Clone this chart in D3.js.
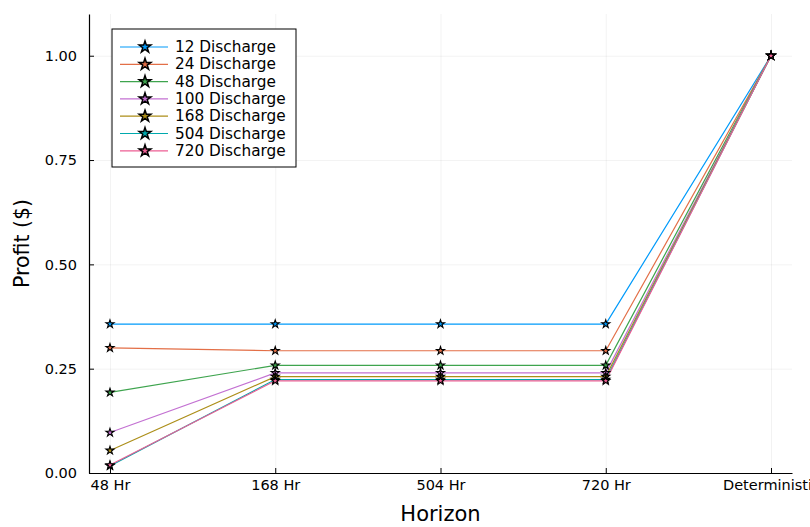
<!DOCTYPE html>
<html>
<head>
<meta charset="utf-8">
<script src="https://cdn.jsdelivr.net/npm/d3@7"></script>
<style>
  body { margin: 0; background: #fff; }
  svg { font-family: "DejaVu Sans", sans-serif; }
</style>
</head>
<body>
<div id="chart"></div>
<script>
// data
const horizons = ["48 Hr", "168 Hr", "504 Hr", "720 Hr", "Deterministic"];
const seriesNames = ["12 Discharge", "24 Discharge", "48 Discharge", "100 Discharge", "168 Discharge", "504 Discharge", "720 Discharge"];
const d12 = [0.357, 0.357, 0.357, 0.357, 1.0];
const d24 = [0.300, 0.293, 0.293, 0.293, 1.0];
const d48 = [0.193, 0.258, 0.258, 0.258, 1.0];
const d100 = [0.097, 0.240, 0.240, 0.240, 1.0];
const d168 = [0.054, 0.231, 0.231, 0.231, 1.0];
const d504 = [0.017, 0.224, 0.224, 0.224, 1.0];
const d720 = [0.019, 0.221, 0.221, 0.221, 1.0];
const yTicks = [0, 0.25, 0.5, 0.75, 1.0];

const allSeries = [d12, d24, d48, d100, d168, d504, d720];
const colors = ["#009afa", "#e36f47", "#3ea44e", "#c371d2", "#ac8e18", "#00a9ad", "#ed5e93"];

const width = 810, height = 527;
const margin = {top: 14, right: 18, bottom: 54, left: 89};
const w = width - margin.left - margin.right;
const h = height - margin.top - margin.bottom;

const svg = d3.select("#chart")
    .append("svg")
    .attr("width", width)
    .attr("height", height)
    .style("overflow", "visible");

const g = svg.append("g")
    .attr("transform", `translate(${margin.left},${margin.top})`);

// Scales
const pad = 0.127;
const x = d3.scaleLinear()
    .domain([-pad, horizons.length - 1 + pad])
    .range([0, w]);

const y = d3.scaleLinear()
    .domain([0, 1.1])
    .range([h, 0]);

// Grid lines
g.append("g")
    .attr("class", "grid")
    .attr("transform", `translate(0,${h})`)
    .call(d3.axisBottom(x).tickValues(d3.range(horizons.length)).tickSize(-h).tickFormat(""))
    .call(s => s.select(".domain").remove())
    .selectAll("line").attr("stroke", "#000").attr("stroke-opacity", 0.1).attr("stroke-width", 0.5);

g.append("g")
    .attr("class", "grid")
    .call(d3.axisLeft(y).tickValues(yTicks).tickSize(-w).tickFormat(""))
    .call(s => s.select(".domain").remove())
    .selectAll("line").attr("stroke", "#000").attr("stroke-opacity", 0.1).attr("stroke-width", 0.5);

// Axes
const xAxis = g.append("g")
    .attr("transform", `translate(0,${h})`)
    .call(d3.axisBottom(x)
        .tickValues(d3.range(horizons.length))
        .tickFormat(i => horizons[i])
        .tickSizeInner(-5).tickSizeOuter(0).tickPadding(7));

const yAxis = g.append("g")
    .call(d3.axisLeft(y)
        .tickValues(yTicks)
        .tickFormat(d3.format(".2f"))
        .tickSizeInner(-5).tickSizeOuter(0).tickPadding(12));

[xAxis, yAxis].forEach(a => {
    a.attr("font-size", null);
    a.select(".domain").attr("stroke", "#000").attr("stroke-width", 1.2);
    a.selectAll(".tick line").attr("stroke", "#000").attr("stroke-width", 1);
    a.selectAll("text").attr("font-size", 14.5).attr("fill", "#000")
        .style("font-family", "DejaVu Sans, sans-serif");
});
yAxis.selectAll("text").attr("x", -12);

// Axis titles
svg.append("text")
    .attr("x", margin.left + w / 2)
    .attr("y", 521)
    .attr("text-anchor", "middle")
    .attr("font-size", 21)
    .text("Horizon");

svg.append("text")
    .attr("transform", `translate(29,${margin.top + h / 2}) rotate(-90)`)
    .attr("text-anchor", "middle")
    .attr("font-size", 20.5)
    .text("Profit ($)");

// Lines and markers
const line = d3.line()
    .x((d, i) => x(i))
    .y(d => y(d));

const star = d3.symbol().type(d3.symbolStar).size(20);

allSeries.forEach((vals, k) => {
    g.append("path")
        .datum(vals)
        .attr("fill", "none")
        .attr("stroke", colors[k])
        .attr("stroke-width", 1.2)
        .attr("d", line);
});

allSeries.forEach((vals, k) => {
    g.selectAll(".dot" + k)
        .data(vals)
        .enter()
        .append("path")
        .attr("d", star)
        .attr("transform", (d, i) => `translate(${x(i)},${y(d)})`)
        .attr("fill", colors[k])
        .attr("stroke", "#000")
        .attr("stroke-width", 1.1);
});

// Legend
const lg = svg.append("g").attr("transform", "translate(112,29)");
lg.append("rect")
    .attr("width", 184)
    .attr("height", 138)
    .attr("fill", "#fff")
    .attr("stroke", "#000")
    .attr("stroke-width", 1);

seriesNames.forEach((name, k) => {
    const yy = 18 + k * 17.3;
    lg.append("line")
        .attr("x1", 8).attr("x2", 56)
        .attr("y1", yy).attr("y2", yy)
        .attr("stroke", colors[k])
        .attr("stroke-width", 1.2);
    lg.append("path")
        .attr("d", d3.symbol().type(d3.symbolStar).size(42))
        .attr("transform", `translate(33,${yy})`)
        .attr("fill", colors[k])
        .attr("stroke", "#000")
        .attr("stroke-width", 1.5);
    lg.append("text")
        .attr("x", 63)
        .attr("y", yy + 5)
        .attr("font-size", 15.3)
        .text(name);
});
</script>
</body>
</html>
